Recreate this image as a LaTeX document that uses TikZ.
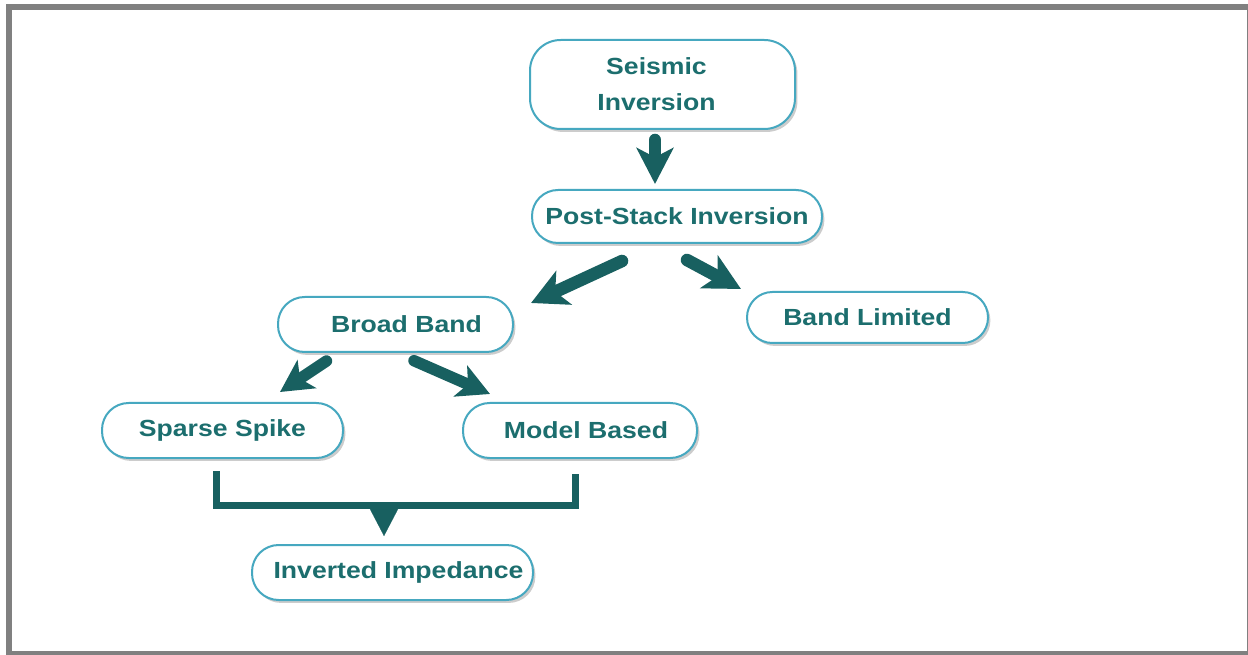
\documentclass[tikz,border=0pt]{standalone}
\usepackage{fontspec}
\newfontfamily\lblfont{Liberation Sans}[FakeStretch=1.14]
\usetikzlibrary{arrows.meta,shadows}
\definecolor{framegray}{RGB}{128,128,128}
\definecolor{boxline}{RGB}{70,168,192}
\definecolor{labelteal}{RGB}{28,110,110}
\definecolor{arrowteal}{RGB}{24,96,96}

\begin{document}
\begin{tikzpicture}[x=0.75pt,y=-0.75pt,
  stadium/.style={draw=boxline, line width=1.5pt, fill=white,
    rounded corners=20pt, inner sep=0pt, align=center,
    font=\lblfont\bfseries\fontsize{17.5}{27}\selectfont, text=labelteal,
    drop shadow={shadow xshift=1.8pt, shadow yshift=-2.2pt, opacity=0.2, fill=black}},
  flow/.style={draw=arrowteal, line width=9.4pt, line cap=round,
    -{Stealth[length=27pt,width=27.5pt,inset=7pt]}},
  smallflow/.style={flow, line width=8.6pt,
    -{Stealth[length=24pt,width=25pt,inset=6pt]}},
  bracket/.style={draw=arrowteal, line width=5.25pt, line cap=butt, line join=miter},
]
\useasboundingbox (0,0) rectangle (1248,655);

% grey frame around the white page
\fill[framegray] (6,4) rectangle (1248,655);
\fill[white] (12,10) rectangle (1246.5,650.5);

% boxes
\node[stadium, minimum width=198.75pt, minimum height=66.75pt, rounded corners=23pt]
  (si) at (662.5,84.5) {Seismic\hspace*{9pt}\\Inversion\hspace*{9pt}};
\node[stadium, minimum width=217.5pt, minimum height=39.75pt, rounded corners=19.5pt]
  (ps) at (677,216.5) {Post-Stack Inversion};
\node[stadium, minimum width=176.25pt, minimum height=41.25pt]
  (bb) at (395.5,324.5) {\hspace*{16.5pt}Broad Band};
\node[stadium, minimum width=180.75pt, minimum height=38.25pt, rounded corners=19pt]
  (bl) at (867.5,317.5) {Band Limited};
\node[stadium, minimum width=180.75pt, minimum height=41.25pt]
  (ss) at (222.5,430.5) {Sparse Spike};
\node[stadium, minimum width=175.5pt, minimum height=41.25pt]
  (mb) at (580,430.5) {\hspace*{9pt}Model Based};
\node[stadium, minimum width=210.75pt, minimum height=41.25pt]
  (ii) at (392.5,572.5) {\hspace*{9pt}Inverted Impedance};

% arrows between the levels
\draw[flow] ([shift={(-7.5,10)}]si.south) -- ([shift={(-22,-5)}]ps.north);
\draw[flow] ([shift={(-55,17)}]ps.south) -- ([shift={(17,7)}]bb.north east);
\draw[flow] ([shift={(10,16)}]ps.south) -- ([shift={(-5,-2)}]bl.north west);
\draw[smallflow] ([shift={(-69,8)}]bb.south) -- ([shift={(57.5,-10)}]ss.north);
\draw[smallflow] ([shift={(18.5,7.7)}]bb.south) -- ([shift={(-90,-8)}]mb.north);

% bracket joining the two methods
\coordinate (jn) at (384,505);
\draw[bracket] ([shift={(-6.5,12)}]ss.south) |- (jn) -| ([shift={(-5,15)}]mb.south);
\draw[draw=arrowteal, line width=0.1pt, -{Stealth[length=24pt,width=25pt,inset=0pt]}]
  (jn) -- ([shift={(-8.5,-8)}]ii.north);
\end{tikzpicture}
\end{document}
